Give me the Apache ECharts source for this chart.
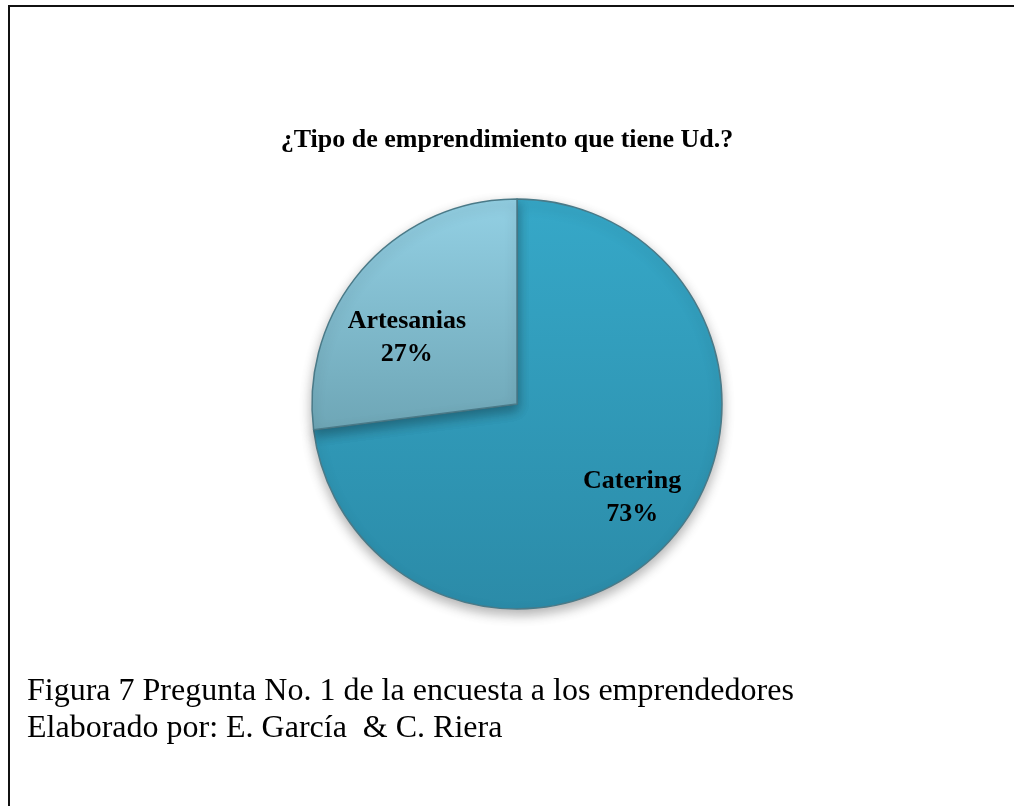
<!DOCTYPE html>
<html lang="es">
<head>
    <meta charset="utf-8">
    <title>Tipo de emprendimiento</title>
    <script src="https://cdn.jsdelivr.net/npm/echarts@6/dist/echarts.min.js"></script>
    <style>
        html, body { margin: 0; padding: 0; background: #fff; }
        #main { width: 1014px; height: 806px; }
    </style>
</head>
<body>
<div id="main"></div>
<script type="text/javascript">
// datos del grafico
var categorias = ['Catering', 'Artesanias'];
var valores = [73, 27];
var titulo = '¿Tipo de emprendimiento que tiene Ud.?';
var pie1 = 'Figura 7 Pregunta No. 1 de la encuesta a los emprendedores';
var pie2 = 'Elaborado por: E. García  & C. Riera';

// colores de cada sector (degradado vertical)
var colores = [
    ['#36a8c8', '#2b8ba8'],
    ['#93d0e4', '#6ea6b6']
];
// ajuste de la posicion de las etiquetas
var ajusteEtiqueta = [[36, 24], [-31, 4]];

var myChart = echarts.init(document.getElementById('main'));

var datos = [];
for (var i = 0; i < categorias.length; i++) {
    datos.push({
        name: categorias[i],
        value: valores[i],
        itemStyle: {
            color: new echarts.graphic.LinearGradient(0, 0, 0, 1, [
                { offset: 0, color: colores[i][0] },
                { offset: 1, color: colores[i][1] }
            ])
        }
    });
}

var option = {
    animation: false,
    backgroundColor: '#fff',
    title: {
        text: titulo,
        left: 'center',
        top: 122,
        textStyle: {
            fontFamily: 'Liberation Serif',
            fontWeight: 'bold',
            fontSize: 26,
            color: '#000'
        }
    },
    graphic: [
        {
            type: 'rect',
            shape: { x: 9, y: 6, width: 1040, height: 840 },
            style: { fill: 'none', stroke: '#111', lineWidth: 2 },
            silent: true
        },
        {
            type: 'text',
            left: 27,
            top: 673,
            style: {
                text: pie1 + '\n' + pie2,
                font: '32px "Liberation Serif"',
                lineHeight: 37,
                fill: '#000'
            }
        }
    ],
    series: [{
        type: 'pie',
        center: [517, 404],
        radius: 205,
        startAngle: 90,
        clockwise: true,
        itemStyle: {
            borderColor: '#4a7a88',
            borderWidth: 1.5,
            shadowBlur: 12,
            shadowOffsetY: 5,
            shadowColor: 'rgba(0,0,0,0.3)'
        },
        label: {
            show: true,
            position: 'inside',
            formatter: '{b}\n{d}%',
            fontFamily: 'Liberation Serif',
            fontWeight: 'bold',
            fontSize: 26,
            lineHeight: 33,
            color: '#000'
        },
        labelLine: { show: false },
        labelLayout: function (params) {
            var a = ajusteEtiqueta[params.dataIndex];
            return { dx: a[0], dy: a[1] };
        },
        emphasis: { disabled: true },
        data: datos
    }]
};

myChart.setOption(option);
</script>
</body>
</html>
